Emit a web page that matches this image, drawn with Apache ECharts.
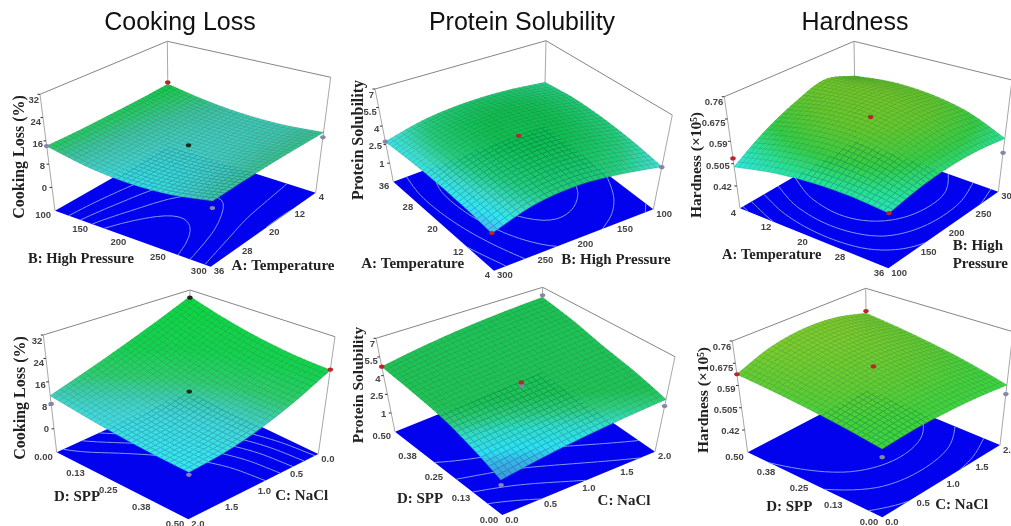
<!DOCTYPE html>
<html>
<head>
<meta charset="utf-8">
<script src="https://cdn.jsdelivr.net/npm/echarts@6/dist/echarts.min.js"></script>
<style>
html,body{margin:0;padding:0;background:#fff}
#c{width:1011px;height:526px;filter:blur(0.55px)}
</style>
</head>
<body>
<div id="c"></div>
<script>
// ---------- values ----------
// response values on a 5x5 control grid: rows run back corner -> near side, columns back corner -> right corner
const cookingLossPressureTemp = [
  [15.6,13.2,11.9,11.8,12.9],
  [14.9,12.6,11.5,11.6,13.0],
  [14.5,12.1,11.0,11.3,13.0],
  [14.2,11.7,10.5,10.8,12.7],
  [14.2,11.2, 9.9,10.3,12.3]];
const solubilityPressureTemp = [
  [3.34,3.60,3.55,3.30,2.89],
  [3.70,4.10,4.15,3.90,3.40],
  [3.75,4.20,4.30,4.05,3.60],
  [3.45,3.80,3.80,3.55,3.20],
  [2.74,2.78,2.70,2.50,2.18]];
const hardnessPressureTemp = [
  [.612,.630,.625,.597,.538],
  [.655,.660,.650,.618,.554],
  [.620,.645,.645,.614,.557],
  [.565,.595,.605,.587,.546],
  [.493,.521,.535,.535,.522]];
const cookingLossSaltSpp = [
  [29.4,25.7,23.0,21.3,20.6],
  [24.0,20.1,17.3,15.6,15.0],
  [19.2,15.6,13.0,11.4,10.8],
  [15.0,12.1,10.0, 8.7, 8.2],
  [11.3, 9.7, 8.4, 7.5, 7.0]];
const solubilitySaltSpp = [
  [6.12,5.55,4.85,4.30,3.63],
  [5.90,5.25,4.55,3.95,3.30],
  [5.60,4.90,4.25,3.60,2.93],
  [5.20,4.60,4.00,3.25,2.50],
  [4.72,4.25,3.74,2.95,2.00]];
const hardnessSaltSpp = [
  [.656,.639,.618,.592,.560],
  [.690,.668,.640,.609,.572],
  [.698,.674,.646,.614,.577],
  [.679,.658,.634,.607,.576],
  [.633,.621,.606,.588,.567]];

const temperatureTicks = ['36','28','20','12','4'];
const pressureTicks = ['100','150','200','250','300'];
const naclTicks = ['2.0','1.5','1.0','0.5','0.0'];
const sppTicks = ['0.00','0.13','0.25','0.38','0.50'];
const cookingTicks = [0,8,16,24,32];
const solubilityTicks = [1,2.5,4,5.5,7];
const hardnessTicks = [0.42,0.505,0.59,0.675,0.76];

const titles = ['Cooking Loss','Protein Solubility','Hardness'];

// design points: s, t, response, kind
const pointsA = [[0,0,16.3,'r'],[0,1,14.2,'g'],[1,0,11.2,'g'],[1,1,10.1,'g'],[.5,.5,11.4,'k']];
const pointsB = [[0,1,2.74,'g'],[1,1,2.2,'r'],[1,0,2.85,'g'],[.5,.5,4.25,'r']];
const pointsC = [[0,1,.525,'r'],[1,1,.522,'r'],[1,0,.483,'g'],[.5,.5,.65,'r']];
const pointsD = [[0,0,29,'k'],[1,0,20.8,'r'],[0,1,8.5,'g'],[1,1,6.2,'g'],[.5,.5,13,'k']];
const pointsE = [[0,1,4.72,'r'],[0,0,6.3,'g'],[1,0,3.1,'g'],[1,1,1.64,'g'],[.5,.5,3.95,'g'],[.5,.5,4.2,'r']];
const pointsF = [[0,0,.665,'r'],[0,1,.633,'r'],[1,0,.526,'g'],[1,1,.539,'g'],[.5,.5,.646,'r']];

// ---------- panel layout ----------
const colorsCooking = [[9.5,50,225,230],[11,65,205,195],[12.5,60,195,160],[14,40,200,105],[16,10,200,65],[32,10,200,65]];
const colorsSolubility = [[1.6,65,160,230],[2.2,70,185,240],[2.6,50,230,240],[3.0,60,220,200],[3.5,35,205,125],[4.2,15,190,80],[7,15,190,80]];
const colorsHardness = [[.5,45,230,220],[.54,40,225,150],[.58,50,205,70],[.63,95,200,45],[.67,115,200,40],[.76,115,200,40]];
const colorsCooking2 = [[7,55,230,240],[10,65,215,215],[12,60,205,175],[14.5,45,205,110],[19,20,210,80],[32,10,215,60]];
const colorsSolubility2 = [[2,60,150,220],[2.5,55,185,230],[2.75,45,225,240],[3.2,50,220,200],[3.55,45,205,125],[3.9,30,195,85],[7,25,195,85]];
const colorsHardness2 = [[.55,55,215,70],[.59,65,210,60],[.63,95,205,50],[.68,120,205,45],[.76,120,205,45]];

const panels = [
 {z:cookingLossPressureTemp, zTicks:cookingTicks, leftTicks:pressureTicks, rightTicks:temperatureTicks, pts:pointsA, colors:colorsCooking, levels:[10.6,11.2,12,13],
  floor:{B:[168.5,146],R:[315.7,192.7],F:[210.7,266.7],L:[55,210.7]}, top:{B:[167.3,41.3],R:[330.7,77.3],F:[214.5,137],L:[40,94.3]},
  labels:[['B: High Pressure',81,259,14.5,0],['A: Temperature',283,266,15,0],['Cooking Loss (%)',20,157,16,1]]},
 {z:solubilityPressureTemp, zTicks:solubilityTicks, leftTicks:temperatureTicks, rightTicks:[...pressureTicks].reverse(), pts:pointsB, colors:colorsSolubility, levels:[2.5,3,3.5,4],
  floor:{B:[544,126],R:[653.3,209.3],F:[494,270.7],L:[393.3,181.7]}, top:{B:[546,40.7],R:[672.3,115],F:[488,166],L:[375,89]},
  labels:[['A: Temperature',412.7,264,15,0],['B: High Pressure',616,260,15,0],['Protein Solubility',359,140,16,1]]},
 {z:hardnessPressureTemp, zTicks:hardnessTicks, leftTicks:[...temperatureTicks].reverse(), rightTicks:pressureTicks, pts:pointsC, colors:colorsHardness, levels:[.5,.52,.55,.58,.61],
  floor:{B:[855.7,141],R:[998.3,191.7],F:[888.3,268.3],L:[740,208.3]}, top:{B:[854,41.3],R:[1012,80],F:[890,143],L:[724.3,96.7]},
  labels:[['A: Temperature',771.7,255,14.5,0],['B: High\nPressure',952.7,255,15,2],['Hardness (×10⁵)',697,165,15.5,1]]},
 {z:cookingLossSaltSpp, zTicks:cookingTicks, leftTicks:sppTicks, rightTicks:naclTicks, pts:pointsD, colors:colorsCooking2, levels:[12,14,16,18,20],
  floor:{B:[188.6,392],R:[318.3,454],F:[188.3,519.3],L:[56.7,452.3]}, top:{B:[190,290],R:[335,336.7],F:[190,394],L:[43.3,335]},
  labels:[['D: SPP',77,496.7,15,0],['C: NaCl',301.7,496,15,0],['Cooking Loss (%)',20.7,398,16,1]]},
 {z:solubilitySaltSpp, zTicks:solubilityTicks, leftTicks:[...sppTicks].reverse(), rightTicks:[...naclTicks].reverse(), pts:pointsE, colors:colorsSolubility2, levels:[2.5,3,3.5,4],
  floor:{B:[540.8,373],R:[655,451.7],F:[502.3,515],L:[395,431.7]}, top:{B:[542.7,287.3],R:[675,356.7],F:[498,410],L:[376,338.3]},
  labels:[['D: SPP',420,499,15,0],['C: NaCl',624,500.7,15,0],['Protein Solubility',359,385,15.5,1]]},
 {z:hardnessSaltSpp, zTicks:hardnessTicks, leftTicks:[...sppTicks].reverse(), rightTicks:[...naclTicks].reverse(), pts:pointsF, colors:colorsHardness2, levels:[.575,.6,.625],
  floor:{B:[867,390],R:[1000,445],F:[882.3,517.3],L:[747.7,452.3]}, top:{B:[865.7,288.3],R:[1013,331.7],F:[882,392],L:[732.3,341]},
  labels:[['D: SPP',789.3,506.7,15,0],['C: NaCl',961.7,505,15,0],['Hardness (×10⁵)',704,400,15.5,1]]}
];

const W = 1011, H = 526, MESH = 30;

// ---------- projection helpers ----------
function homography(q){
  const [x0,y0]=q.B,[x1,y1]=q.R,[x2,y2]=q.F,[x3,y3]=q.L;
  const dx1=x1-x2,dx2=x3-x2,sx=x0-x1+x2-x3,dy1=y1-y2,dy2=y3-y2,sy=y0-y1+y2-y3;
  const den=dx1*dy2-dx2*dy1,g=(sx*dy2-dx2*sy)/den,h=(dx1*sy-sx*dy1)/den;
  const a=x1-x0+g*x1,b=x3-x0+h*x3,d=y1-y0+g*y1,e=y3-y0+h*y3;
  return (s,t)=>{const w=g*s+h*t+1;return [(a*s+b*t+x0)/w,(d*s+e*t+y0)/w];};
}
function cr(p0,p1,p2,p3,u){
  return 0.5*(2*p1+(p2-p0)*u+(2*p0-5*p1+4*p2-p3)*u*u+(3*p1-p0-3*p2+p3)*u*u*u);
}
function smoothAt(g,s,t){
  const n=g.length-1, at=(r,c)=>{
    const rr=Math.max(0,Math.min(n,r)),cc=Math.max(0,Math.min(n,c));
    let v=g[rr][cc];
    if(r<0)v+=g[0][cc]-g[1][cc]; if(r>n)v+=g[n][cc]-g[n-1][cc];
    if(c<0)v+=g[rr][0]-g[rr][1]; if(c>n)v+=g[rr][n]-g[rr][n-1];
    return v;};
  const fs=Math.min(n-1e-9,s*n),ft=Math.min(n-1e-9,t*n),c=Math.floor(fs),r=Math.floor(ft),us=fs-c,ut=ft-r;
  const row=k=>cr(at(k,c-1),at(k,c),at(k,c+1),at(k,c+2),us);
  return cr(row(r-1),row(r),row(r+1),row(r+2),ut);
}
panels.forEach(p=>{
  p.floorAt=homography(p.floor); p.topAt=homography(p.top);
  p.step=p.zTicks[1]-p.zTicks[0];
  p.zFloor=p.zTicks[0]-p.step; p.zTop=p.zTicks[p.zTicks.length-1];
  p.project=(s,t,z)=>{
    const f=(z-p.zFloor)/(p.zTop-p.zFloor),a=p.floorAt(s,t),b=p.topAt(s,t);
    return [a[0]+(b[0]-a[0])*f,a[1]+(b[1]-a[1])*f];};
  p.fine=[];
  for(let j=0;j<=MESH;j++){const row=[];for(let i=0;i<=MESH;i++)row.push(smoothAt(p.z,i/MESH,j/MESH));p.fine.push(row);}
});
function colorFor(stops,z){
  if(z<=stops[0][0])return stops[0].slice(1);
  for(let k=1;k<stops.length;k++){
    if(z<=stops[k][0]){
      const a=stops[k-1],b=stops[k],f=(z-a[0])/(b[0]-a[0]);
      return [1,2,3].map(n=>a[n]+(b[n]-a[n])*f);
    }
  }
  return stops[stops.length-1].slice(1);
}
function contourSegments(p,level){
  const out=[],g=p.fine,cross=(z0,z1)=>(level-z0)/(z1-z0);
  for(let j=0;j<MESH;j++)for(let i=0;i<MESH;i++){
    const a=g[j][i],b=g[j][i+1],c=g[j+1][i+1],d=g[j+1][i],e=[];
    if((a<level)!==(b<level))e.push([(i+cross(a,b))/MESH,j/MESH]);
    if((b<level)!==(c<level))e.push([(i+1)/MESH,(j+cross(b,c))/MESH]);
    if((d<level)!==(c<level))e.push([(i+cross(d,c))/MESH,(j+1)/MESH]);
    if((a<level)!==(d<level))e.push([i/MESH,(j+cross(a,d))/MESH]);
    if(e.length>=2)out.push([e[0],e[1]]);
    if(e.length===4)out.push([e[2],e[3]]);
  }
  return out;
}

// ---------- series data ----------
const frameData = panels.map((p,k)=>[k,0]);
const cellData = [];
panels.forEach((p,k)=>{for(let j=0;j<MESH;j++)for(let i=0;i<MESH;i++)cellData.push([k,i,j]);});
const pointData = [];
panels.forEach((p,k)=>p.pts.forEach((q,n)=>pointData.push([k,n])));

const sans='"Liberation Sans",Arial,sans-serif', serif='"Liberation Serif","Times New Roman",serif';

function renderFrame(params,api){
  const p=panels[api.value(0)], c=v=>api.coord(v), children=[];
  const fq=p.floor,tq=p.top;
  children.push({type:'polygon',shape:{points:[fq.B,fq.R,fq.F,fq.L].map(c)},style:{fill:'#0202ee'}});
  p.levels.forEach(lv=>contourSegments(p,lv).forEach(seg=>{
    const a=c(p.floorAt(seg[0][0],seg[0][1])),b=c(p.floorAt(seg[1][0],seg[1][1]));
    children.push({type:'line',shape:{x1:a[0],y1:a[1],x2:b[0],y2:b[1]},style:{stroke:'#7d9af2',lineWidth:1}});
  }));
  children.push({type:'polyline',shape:{points:[tq.L,tq.B,tq.R].map(c)},style:{stroke:'#858585',lineWidth:1,fill:null}});
  [['L'],['B'],['R']].forEach(([n])=>children.push({type:'polyline',shape:{points:[tq[n],fq[n]].map(c)},style:{stroke:'#a8a8a8',lineWidth:1,fill:null}}));
  // response axis ticks and labels
  p.zTicks.forEach((v,n)=>{
    const a=c(p.project(0,1,v)),f=n/(p.zTicks.length-1);
    children.push({type:'line',shape:{x1:a[0]-2.5,y1:a[1],x2:a[0],y2:a[1]},style:{stroke:'#333',lineWidth:1}});
    children.push({type:'text',style:{x:a[0]-5+4*f,y:a[1]+1+5*f,text:String(v),align:'right',verticalAlign:'middle',font:'bold 9.5px '+sans,fill:'#444'}});
  });
  // floor axes: left edge runs L -> F, right edge runs F -> R
  p.leftTicks.forEach((v,n)=>{
    const a=c(p.floorAt(n/(p.leftTicks.length-1),1));
    children.push({type:'text',style:{x:a[0]-4,y:a[1]+5,text:v,align:'right',verticalAlign:'middle',font:'bold 9.5px '+sans,fill:'#444'}});
  });
  p.rightTicks.forEach((v,n)=>{
    const a=c(p.floorAt(1,1-n/(p.rightTicks.length-1)));
    children.push({type:'text',style:{x:a[0]+3,y:a[1]+5,text:v,align:'left',verticalAlign:'middle',font:'bold 9.5px '+sans,fill:'#444'}});
  });
  p.labels.forEach(([text,x,y,size,mode])=>{
    const a=c([x,y]);
    children.push({type:'text',x:a[0],y:a[1],rotation:mode===1?Math.PI/2:0,
      style:{x:0,y:0,text,align:mode===2?'left':'center',verticalAlign:'middle',lineHeight:18,font:'bold '+size+'px '+serif,fill:'#222'}});
  });
  return {type:'group',children};
}
function renderCell(params,api){
  const p=panels[api.value(0)],i=api.value(1),j=api.value(2),g=p.fine;
  const corners=[[i,j],[i+1,j],[i+1,j+1],[i,j+1]];
  const pts=corners.map(([a,b])=>api.coord(p.project(a/MESH,b/MESH,g[b][a])));
  const z=(g[j][i]+g[j][i+1]+g[j+1][i+1]+g[j+1][i])/4,col=colorFor(p.colors,z);
  const fill='rgb('+col.map(Math.round).join(',')+')';
  const line='rgb('+col.map(v=>Math.round(v*0.78)).join(',')+')';
  return {type:'polygon',shape:{points:pts},style:{fill,stroke:line,lineWidth:0.5}};
}
function renderPoint(params,api){
  const p=panels[api.value(0)],q=p.pts[api.value(1)],a=api.coord(p.project(q[0],q[1],q[2]));
  const fill={r:'#b8262a',g:'#8585ad',k:'#1c2a1c'}[q[3]];
  return {type:'ellipse',shape:{cx:a[0],cy:a[1],rx:2.8,ry:2.1},style:{fill}};
}

const chart = echarts.init(document.getElementById('c'),null,{renderer:'canvas'});
chart.setOption({
  animation:false,
  backgroundColor:'#fff',
  title:titles.map((t,n)=>({text:t,left:[175,517,850][n],top:6,textAlign:'center',
    textStyle:{fontFamily:sans,fontSize:25,fontWeight:'normal',color:'#111'}})),
  grid:{left:0,top:0,width:W,height:H,show:false},
  xAxis:{type:'value',min:0,max:W,show:false},
  yAxis:{type:'value',min:0,max:H,inverse:true,show:false},
  series:[
    {type:'custom',name:'frame',coordinateSystem:'cartesian2d',clip:false,silent:true,z:1,data:frameData,renderItem:renderFrame,progressive:0},
    {type:'custom',name:'surface',coordinateSystem:'cartesian2d',clip:false,silent:true,z:2,data:cellData,renderItem:renderCell,progressive:0},
    {type:'custom',name:'design points',coordinateSystem:'cartesian2d',clip:false,silent:true,z:3,data:pointData,renderItem:renderPoint,progressive:0}
  ]
});
</script>
</body>
</html>
